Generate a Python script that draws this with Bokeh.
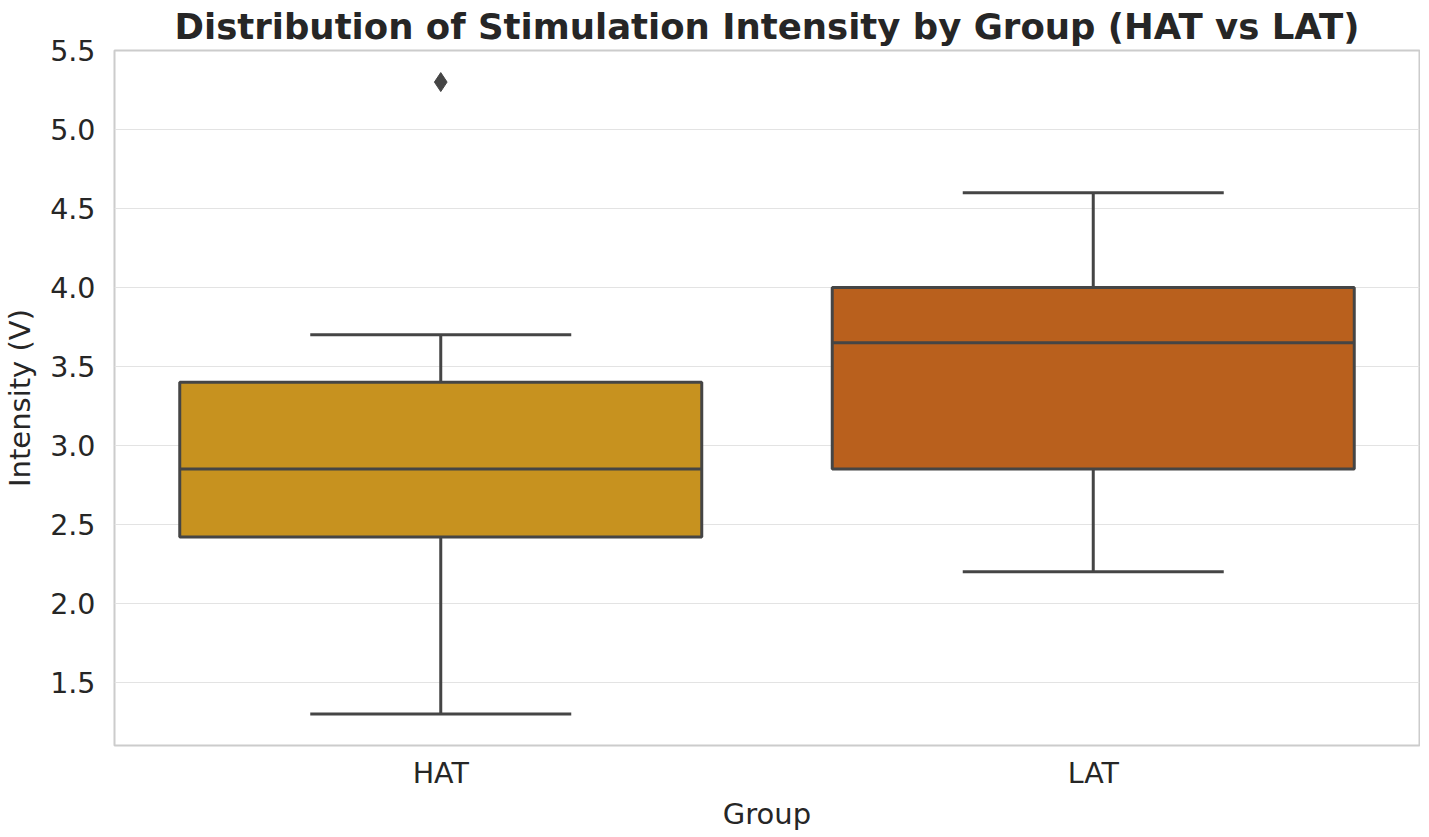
from bokeh.plotting import figure
from bokeh.models import ColumnDataSource, Range1d, FactorRange
from bokeh.transform import dodge
from bokeh.embed import file_html
from bokeh.resources import INLINE

# ---- data ----
groups = ["HAT", "LAT"]
q1 = [2.42, 2.85]
median = [2.85, 3.65]
q3 = [3.40, 4.00]
whisker_low = [1.30, 2.20]
whisker_high = [3.70, 4.60]
box_colors = ["#C7921F", "#B9601D"]
outlier_groups = ["HAT"]
outlier_values = [5.30]
y_ticks = [1.5, 2.0, 2.5, 3.0, 3.5, 4.0, 4.5, 5.0, 5.5]

LINE = "#454545"
TEXT = "#262626"
FONT = "DejaVu Sans"

src = ColumnDataSource(dict(group=groups, q1=q1, median=median, q3=q3,
                            lo=whisker_low, hi=whisker_high, color=box_colors))
out_src = ColumnDataSource(dict(group=outlier_groups, val=outlier_values))

p = figure(frame_width=1305, frame_height=695, output_backend="svg", toolbar_location=None,
           x_range=FactorRange(*groups), y_range=Range1d(1.1, 5.5),
           min_border_left=106, min_border_right=1, min_border_top=45, min_border_bottom=70,
           title="Distribution of Stimulation Intensity by Group (HAT vs LAT)")
p.x_range.range_padding = 0
p.x_range.factor_padding = 0

# whiskers (vertical)
p.segment(x0="group", y0="q3", x1="group", y1="hi", source=src, line_color=LINE, line_width=3)
p.segment(x0="group", y0="lo", x1="group", y1="q1", source=src, line_color=LINE, line_width=3)
# caps
p.segment(x0=dodge("group", -0.2, range=p.x_range), y0="hi",
          x1=dodge("group", 0.2, range=p.x_range), y1="hi", source=src,
          line_color=LINE, line_width=3)
p.segment(x0=dodge("group", -0.2, range=p.x_range), y0="lo",
          x1=dodge("group", 0.2, range=p.x_range), y1="lo", source=src,
          line_color=LINE, line_width=3)
# boxes
p.vbar(x="group", width=0.8, bottom="q1", top="q3", source=src,
       fill_color="color", line_color=LINE, line_width=3)
# medians
p.segment(x0=dodge("group", -0.4, range=p.x_range), y0="median",
          x1=dodge("group", 0.4, range=p.x_range), y1="median", source=src,
          line_color=LINE, line_width=3)
# outliers
p.scatter(x="group", y="val", source=out_src, marker="diamond", size=19,
          fill_color=LINE, line_color=LINE)

# title
p.title.text_font = FONT
p.title.text_font_size = "35.5px"
p.title.text_font_style = "bold"
p.title.text_color = TEXT
p.title.align = "center"
p.title.standoff = 7

# axes
for ax in (p.xaxis[0], p.yaxis[0]):
    ax.axis_line_color = None
    ax.major_tick_line_color = None
    ax.minor_tick_line_color = None
    ax.major_tick_out = 0
    ax.major_tick_in = 0
    ax.major_label_text_font = FONT
    ax.major_label_text_font_size = "28.5px"
    ax.major_label_text_color = TEXT
    ax.axis_label_text_font = FONT
    ax.axis_label_text_font_size = "29px"
    ax.axis_label_text_font_style = "normal"
    ax.axis_label_text_color = TEXT

p.xaxis.axis_label = "Group"
p.yaxis.axis_label = "Intensity (V)"
p.yaxis.ticker = y_ticks
p.yaxis.major_label_overrides = {t: f"{t:.1f}" for t in y_ticks}
p.yaxis.major_label_standoff = 19
p.yaxis.axis_label_standoff = 10
p.xaxis.major_label_standoff = 11
p.xaxis.axis_label_standoff = 4

# grid
p.xgrid.grid_line_color = None
p.ygrid.grid_line_color = "#e3e3e3"
p.ygrid.grid_line_width = 1.2
p.outline_line_color = "#cccccc"
p.outline_line_width = 2
p.background_fill_color = "white"
p.border_fill_color = "white"

open("out.html", "w").write(file_html(p, INLINE))
